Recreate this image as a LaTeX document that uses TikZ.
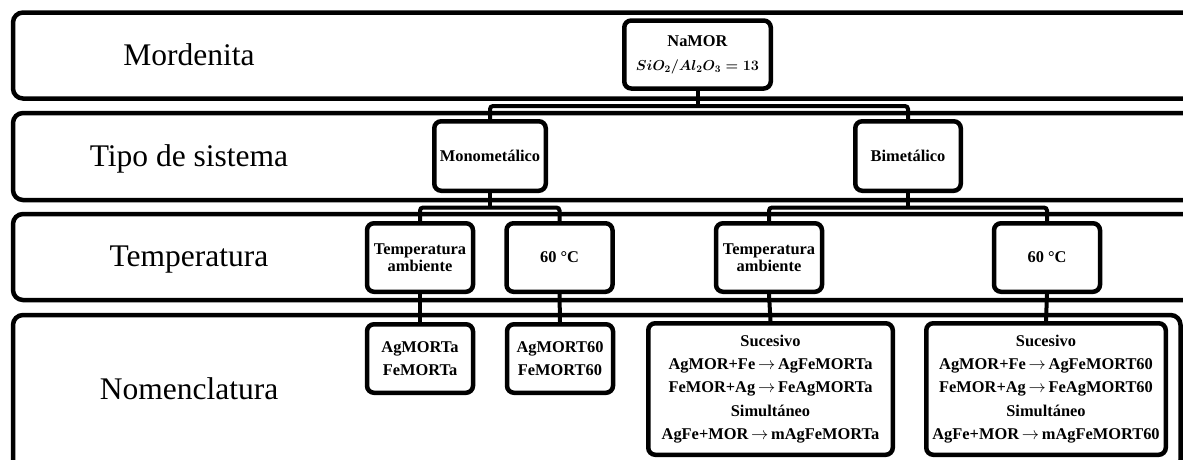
\documentclass[tikz,border=0pt]{standalone}
\usepackage{fontspec}
\setmainfont{Liberation Serif}
\usepackage{amsmath}
\usetikzlibrary{backgrounds}
\newcommand{\ra}{\,$\rightarrow$\,}
\newcommand{\namorformula}{\fontsize{14.6}{24}\selectfont\mathversion{bold}$SiO_2/Al_2O_3=\mathbf{13}$}
\begin{document}
\begin{tikzpicture}[x=1pt,y=-1pt,
  band/.style={line width=4.5pt, rounded corners=10pt},
  boxx/.style={draw, line width=4.5pt, rounded corners=7pt, fill=white, inner sep=0pt, align=center,
    font=\bfseries\fontsize{16.4}{17.5}\selectfont},
  listbox/.style={boxx, font=\bfseries\fontsize{16.4}{23.2}\selectfont},
  lbl/.style={font=\fontsize{31.5}{36}\selectfont, inner sep=0pt, anchor=base},
  conn/.style={line width=4pt, rounded corners=3pt}]
\useasboundingbox (0,0) rectangle (1183,459);

% row labels
\node[lbl] (l1) at (189,65.7) {Mordenita};
\node[lbl] (l2) at (189,166.7) {Tipo de sistema};
\node[lbl] (l3) at (189,266.7) {Temperatura};
\node[lbl] (l4) at (189,399) {Nomenclatura};

% boxes
\node[boxx, font=\bfseries\fontsize{16.4}{24}\selectfont, minimum width=146.5pt, minimum height=68pt] (na) at (697.5,54.5)
  {NaMOR\\{\namorformula}};
\node[boxx, minimum width=111.5pt, minimum height=69.5pt] (mono) at (490,156) {Monometálico};
\node[boxx, minimum width=105.5pt, minimum height=69.5pt] (bi) at (908,156) {Bimetálico};

\node[boxx, minimum width=106pt, minimum height=68.5pt] (ta1) at (420,257.5) {Temperatura\\ambiente};
\node[boxx, minimum width=106pt, minimum height=68.5pt] (c1) at (559.5,257.5) {60 °C};
\node[boxx, minimum width=106pt, minimum height=68.5pt] (ta2) at (769,257.5) {Temperatura\\ambiente};
\node[boxx, minimum width=106pt, minimum height=68.5pt] (c2) at (1047,257.5) {60 °C};

\node[listbox, minimum width=106pt, minimum height=68.5pt] (n1) at (420,358.5) {AgMORTa\\FeMORTa};
\node[listbox, minimum width=106pt, minimum height=68.5pt] (n2) at (560,358.5) {AgMORT60\\FeMORT60};
\node[listbox, minimum width=244.5pt, minimum height=131.5pt] (n3) at (770.5,389)
  {Sucesivo\\AgMOR+Fe\ra AgFeMORTa\\FeMOR+Ag\ra FeAgMORTa\\Simultáneo\\AgFe+MOR\ra mAgFeMORTa};
\node[listbox, minimum width=239.5pt, minimum height=131.5pt] (n4) at (1046,389)
  {Sucesivo\\AgMOR+Fe\ra AgFeMORT60\\FeMOR+Ag\ra FeAgMORT60\\Simultáneo\\AgFe+MOR\ra mAgFeMORT60};

\begin{scope}[on background layer]
  % bands
  \draw[band] (13,12.5) rectangle (1215,98.5);
  \draw[band] (13,113) rectangle (1215,200);
  \draw[band] (13,214) rectangle (1215,300);
  \draw[band] (13,315) rectangle (1180.5,470);
  % connectors
  \coordinate (b1) at (697.5,106);
  \coordinate (b2) at (490,207.5);
  \coordinate (b3) at (908,207.5);
  \draw[conn] (mono.north) |- (b1) -| (bi.north);
  \draw[conn] (na.south) -- (b1);
  \draw[conn] (ta1.north) |- (b2) -| (c1.north);
  \draw[conn] (mono.south) -- (b2);
  \draw[conn] (ta2.north) |- (b3) -| (c2.north);
  \draw[conn] (bi.south) -- (b3);
  \draw[conn] (ta1.south) -- (n1.north);
  \draw[conn] (c1.south) -- (n2.north);
  \draw[conn] (ta2.south) -- (n3.north);
  \draw[conn] (c2.south) -- (n4.north);
\end{scope}
\end{tikzpicture}
\end{document}
